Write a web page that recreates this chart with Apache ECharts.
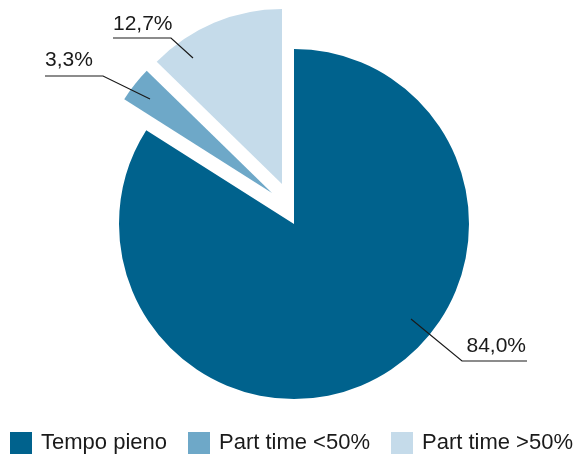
<!DOCTYPE html>
<html>
<head>
<meta charset="utf-8">
<script src="https://cdn.jsdelivr.net/npm/echarts@6/dist/echarts.min.js"></script>
<style>
  html, body { margin: 0; padding: 0; background: #ffffff; }
  #chart { width: 579px; height: 454px; }
</style>
</head>
<body>
<div id="chart"></div>
<script>
// Employment type shares (%)
const categories = ['Tempo pieno', 'Part time <50%', 'Part time >50%'];
const shares = [84.0, 3.3, 12.7];

const palette = ['#00628d', '#6ea8c8', '#c5dbea'];
const textColor = '#1a1a1a';
const fontFamily = '"Liberation Sans", Arial, Helvetica, sans-serif';

// Pie geometry; the two part-time slices are pulled away from the centre
const pieCenter = [294, 224];
const pieRadius = 175;
const sliceShift = [[0, 0], [-22, -31], [-12, -40]];

// Callout placement for each slice label: guide polyline and text anchor
const callouts = [
  { line: [[411, 319], [462, 361], [527, 361]], at: [526, 357], align: 'right' },
  { line: [[150, 99], [103, 76], [45, 76]], at: [45, 71], align: 'left' },
  { line: [[193, 58], [171, 38], [113, 38]], at: [113, 35], align: 'left' }
];

const fmt = v => v.toFixed(1).replace('.', ',') + '%';

const basePie = {
  type: 'pie',
  radius: pieRadius,
  startAngle: 90,
  clockwise: true,
  silent: true,
  emphasis: { disabled: true },
  itemStyle: { borderWidth: 0 }
};

// One pie layer per slice: every layer lays out the full data set so the
// angles stay consistent, but only its own slice is visible.
const sliceLayers = categories.map((_, k) => Object.assign({}, basePie, {
  z: 2 + k,
  center: [pieCenter[0] + sliceShift[k][0], pieCenter[1] + sliceShift[k][1]],
  label: { show: false },
  labelLine: { show: false },
  data: categories.map((name, i) => ({
    name: name,
    value: shares[i],
    itemStyle: { color: palette[i], opacity: i === k ? 1 : 0 }
  }))
}));

// Top layer carrying the value callouts, drawn above every slice
const calloutLayer = Object.assign({}, basePie, {
  z: 10,
  center: pieCenter,
  label: {
    show: true,
    position: 'outside',
    color: textColor,
    opacity: 1,
    fontSize: 21,
    fontFamily: fontFamily,
    formatter: p => fmt(p.value)
  },
  labelLine: {
    show: true,
    showAbove: true,
    length: 20,
    length2: 40,
    lineStyle: { color: textColor, width: 1.2, opacity: 1 }
  },
  labelLayout: p => {
    const c = callouts[p.dataIndex];
    return {
      x: c.at[0],
      y: c.at[1],
      align: c.align,
      verticalAlign: 'bottom',
      labelLinePoints: c.line
    };
  },
  data: categories.map((name, i) => ({
    name: name,
    value: shares[i],
    itemStyle: { color: 'rgba(0,0,0,0)' }
  }))
});

const chart = echarts.init(document.getElementById('chart'), null, { renderer: 'canvas' });

chart.setOption({
  animation: false,
  color: palette,
  legend: {
    left: 10,
    top: 432,
    padding: 0,
    itemWidth: 22,
    itemHeight: 22,
    itemGap: 21,
    icon: 'rect',
    selectedMode: false,
    textStyle: {
      color: textColor,
      fontSize: 22,
      fontFamily: fontFamily,
      padding: [0, 0, 0, 4]
    },
    data: categories.map((name, i) => ({
      name: name,
      itemStyle: { color: palette[i], opacity: 1 }
    }))
  },
  series: sliceLayers.concat([calloutLayer])
});
</script>
</body>
</html>
